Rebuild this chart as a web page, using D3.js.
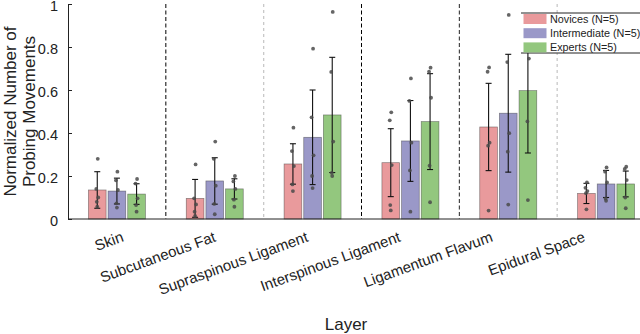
<!DOCTYPE html>
<html>
<head>
<meta charset="utf-8">
<script src="https://cdn.jsdelivr.net/npm/d3@7"></script>
<style>
  body { margin: 0; background: #fff; }
  svg { font-family: "Liberation Sans", Arial, sans-serif; }
</style>
</head>
<body>
<div id="chart"></div>
<script>
// Layers on the x axis
var layers = ["Skin", "Subcutaneous Fat", "Supraspinous Ligament",
              "Interspinous Ligament", "Ligamentum Flavum", "Epidural Space"];
var groups = ["Novices (N=5)", "Intermediate (N=5)", "Experts (N=5)"];

// bar heights (mean) and error bar half lengths (sd)
var noviceMean = [0.135, 0.096, 0.256, 0.262, 0.428, 0.119];
var noviceSd   = [0.085, 0.088, 0.094, 0.158, 0.203, 0.047];
var interMean  = [0.130, 0.177, 0.380, 0.363, 0.492, 0.163];
var interSd    = [0.060, 0.108, 0.220, 0.188, 0.274, 0.063];
var expertMean = [0.116, 0.140, 0.484, 0.453, 0.597, 0.163];
var expertSd   = [0.048, 0.047, 0.268, 0.223, 0.290, 0.060];

// individual participants
var noviceDots = [[0.28, 0.14, 0.10, 0.08, 0.057], [0.254, 0.096, 0.068, 0.034, 0.014],
                  [0.425, 0.316, 0.246, 0.161, 0.13], [0.496, 0.459, 0.251, 0.065, 0.04],
                  [0.705, 0.685, 0.355, 0.341, 0.039], [0.17, 0.145, 0.13, 0.12, 0.045]];
var interDots  = [[0.22, 0.18, 0.135, 0.073, 0.053], [0.36, 0.28, 0.155, 0.07, 0.022],
                  [0.792, 0.473, 0.296, 0.2, 0.144], [0.654, 0.549, 0.355, 0.226, 0.034],
                  [0.949, 0.73, 0.399, 0.313, 0.067], [0.24, 0.22, 0.17, 0.095, 0.085]];
var expertDots = [[0.186, 0.165, 0.096, 0.065, 0.034], [0.20, 0.175, 0.14, 0.09, 0.057],
                  [0.963, 0.684, 0.36, 0.215, 0.2], [0.704, 0.685, 0.564, 0.248, 0.078],
                  [0.88, 0.81, 0.746, 0.454, 0.088], [0.243, 0.233, 0.181, 0.10, 0.05]];

var yTicks = [0, 0.2, 0.4, 0.6, 0.8, 1];

var colors = ["#e99a9c", "#9a98c8", "#93c77e"];
var means = [noviceMean, interMean, expertMean];
var sds = [noviceSd, interSd, expertSd];
var dots = [noviceDots, interDots, expertDots];

var width = 640, height = 334;
var plotLeft = 68, plotTop = 4, plotBottom = 219;

var svg = d3.select("#chart").append("svg")
    .attr("width", width)
    .attr("height", height);

var x0 = d3.scaleBand().domain(layers).range([plotLeft, 655]);
var x1 = d3.scaleBand().domain(groups).range([-28.5, 28.5]).paddingInner(0.1);
var y = d3.scaleLinear().domain([0, 1]).range([plotBottom, plotTop]);
// rotated labels sit on a slightly tighter spacing than the bars
var xLab = d3.scalePoint().domain(layers).range([124.5, 586]);

function cx(layer) { return x0(layer) + x0.bandwidth() / 2; }

// separators between layers
var sepStyle = ["#000", "#c9c9c9", "#000", "#222", "#c9c9c9"];
svg.append("g").selectAll("line")
    .data(layers.slice(0, -1))
    .enter().append("line")
    .attr("x1", function(d) { return x0(d) + x0.bandwidth(); })
    .attr("x2", function(d) { return x0(d) + x0.bandwidth(); })
    .attr("y1", plotTop).attr("y2", plotBottom)
    .attr("stroke", function(d, i) { return sepStyle[i]; })
    .attr("stroke-width", function(d, i) { return sepStyle[i] == "#c9c9c9" ? 1.3 : 1; })
    .attr("stroke-dasharray", function(d, i) { return sepStyle[i] == "#c9c9c9" ? "3,3" : "4,2.5"; });

// table of bars
var rows = [];
groups.forEach(function(g, gi) {
    layers.forEach(function(l, li) {
        rows.push({ group: g, gi: gi, layer: l, mean: means[gi][li], sd: sds[gi][li], pts: dots[gi][li] });
    });
});

function bx(d) { return cx(d.layer) + x1(d.group) + x1.bandwidth() / 2; }

svg.append("g").selectAll("rect")
    .data(rows)
    .enter().append("rect")
    .attr("x", function(d) { return cx(d.layer) + x1(d.group); })
    .attr("width", x1.bandwidth())
    .attr("y", function(d) { return y(d.mean); })
    .attr("height", function(d) { return y(0) - y(d.mean); })
    .attr("fill", function(d) { return colors[d.gi]; })
    .attr("stroke", "#333")
    .attr("stroke-opacity", 0.55)
    .attr("stroke-width", 0.7);

// error bars
var eb = svg.append("g").attr("stroke", "#111").attr("stroke-width", 1.1);
rows.forEach(function(d) {
    var xc = bx(d), lo = y(Math.max(0, d.mean - d.sd)), hi = y(d.mean + d.sd);
    eb.append("line").attr("x1", xc).attr("x2", xc).attr("y1", lo).attr("y2", hi);
    eb.append("line").attr("x1", xc - 3).attr("x2", xc + 3).attr("y1", lo).attr("y2", lo);
    eb.append("line").attr("x1", xc - 3).attr("x2", xc + 3).attr("y1", hi).attr("y2", hi);
});

// participant dots
var jit = [0.5, -1, 1, -0.5, 0];
var dg = svg.append("g");
rows.forEach(function(d) {
    dg.selectAll(null)
        .data(d.pts)
        .enter().append("circle")
        .attr("cx", function(v, i) { return bx(d) + jit[i]; })
        .attr("cy", function(v) { return y(v); })
        .attr("r", 1.9)
        .attr("fill", "#4a4a4a")
        .attr("fill-opacity", 0.85);
});

// y axis
var yAxis = d3.axisLeft(y)
    .tickValues(yTicks)
    .tickFormat(d3.format("~g"))
    .tickSizeInner(-4)
    .tickSizeOuter(0)
    .tickPadding(10);

var ya = svg.append("g")
    .attr("transform", "translate(" + plotLeft + ",0)")
    .call(yAxis);
ya.selectAll("text").attr("font-size", 14.5).attr("fill", "#222").attr("dy", "0.45em");
ya.select(".domain").attr("stroke", "#222");
ya.selectAll(".tick line").attr("stroke", "#222");

// x axis baseline
svg.append("line")
    .attr("x1", plotLeft).attr("x2", width)
    .attr("y1", plotBottom).attr("y2", plotBottom)
    .attr("stroke", "#222");

// layer labels
svg.append("g").selectAll("text")
    .data(layers)
    .enter().append("text")
    .attr("transform", function(d) { return "translate(" + xLab(d) + ",241) rotate(-20)"; })
    .attr("text-anchor", "end")
    .attr("font-size", 15)
    .attr("fill", "#222")
    .text(function(d) { return d; });

// axis titles
svg.append("text")
    .attr("x", 346).attr("y", 330)
    .attr("text-anchor", "middle")
    .attr("font-size", 17)
    .attr("fill", "#222")
    .text("Layer");

var yl = svg.append("text")
    .attr("transform", "translate(16," + ((plotTop + plotBottom) / 2) + ") rotate(-90)")
    .attr("text-anchor", "middle")
    .attr("font-size", 17)
    .attr("fill", "#222");
yl.append("tspan").attr("x", 0).attr("dy", 0).text("Normalized Number of");
yl.append("tspan").attr("x", 0).attr("dy", 18.5).text("Probing Movements");

// legend
var lg = svg.append("g").attr("transform", "translate(521,13)");
lg.append("rect").attr("width", 130).attr("height", 40).attr("fill", "#fff");
lg.append("line").attr("x1", 0).attr("x2", 130).attr("y1", 0).attr("y2", 0).attr("stroke", "#222");
lg.append("line").attr("x1", 0).attr("x2", 130).attr("y1", 40).attr("y2", 40).attr("stroke", "#222");
groups.forEach(function(g, i) {
    lg.append("rect")
        .attr("x", 2.5).attr("y", 1 + i * 14.2)
        .attr("width", 23).attr("height", 10)
        .attr("fill", colors[i]);
    lg.append("text")
        .attr("x", 29).attr("y", 10 + i * 14.2)
        .attr("font-size", 10.8)
        .attr("fill", "#222")
        .text(g);
});
</script>
</body>
</html>
